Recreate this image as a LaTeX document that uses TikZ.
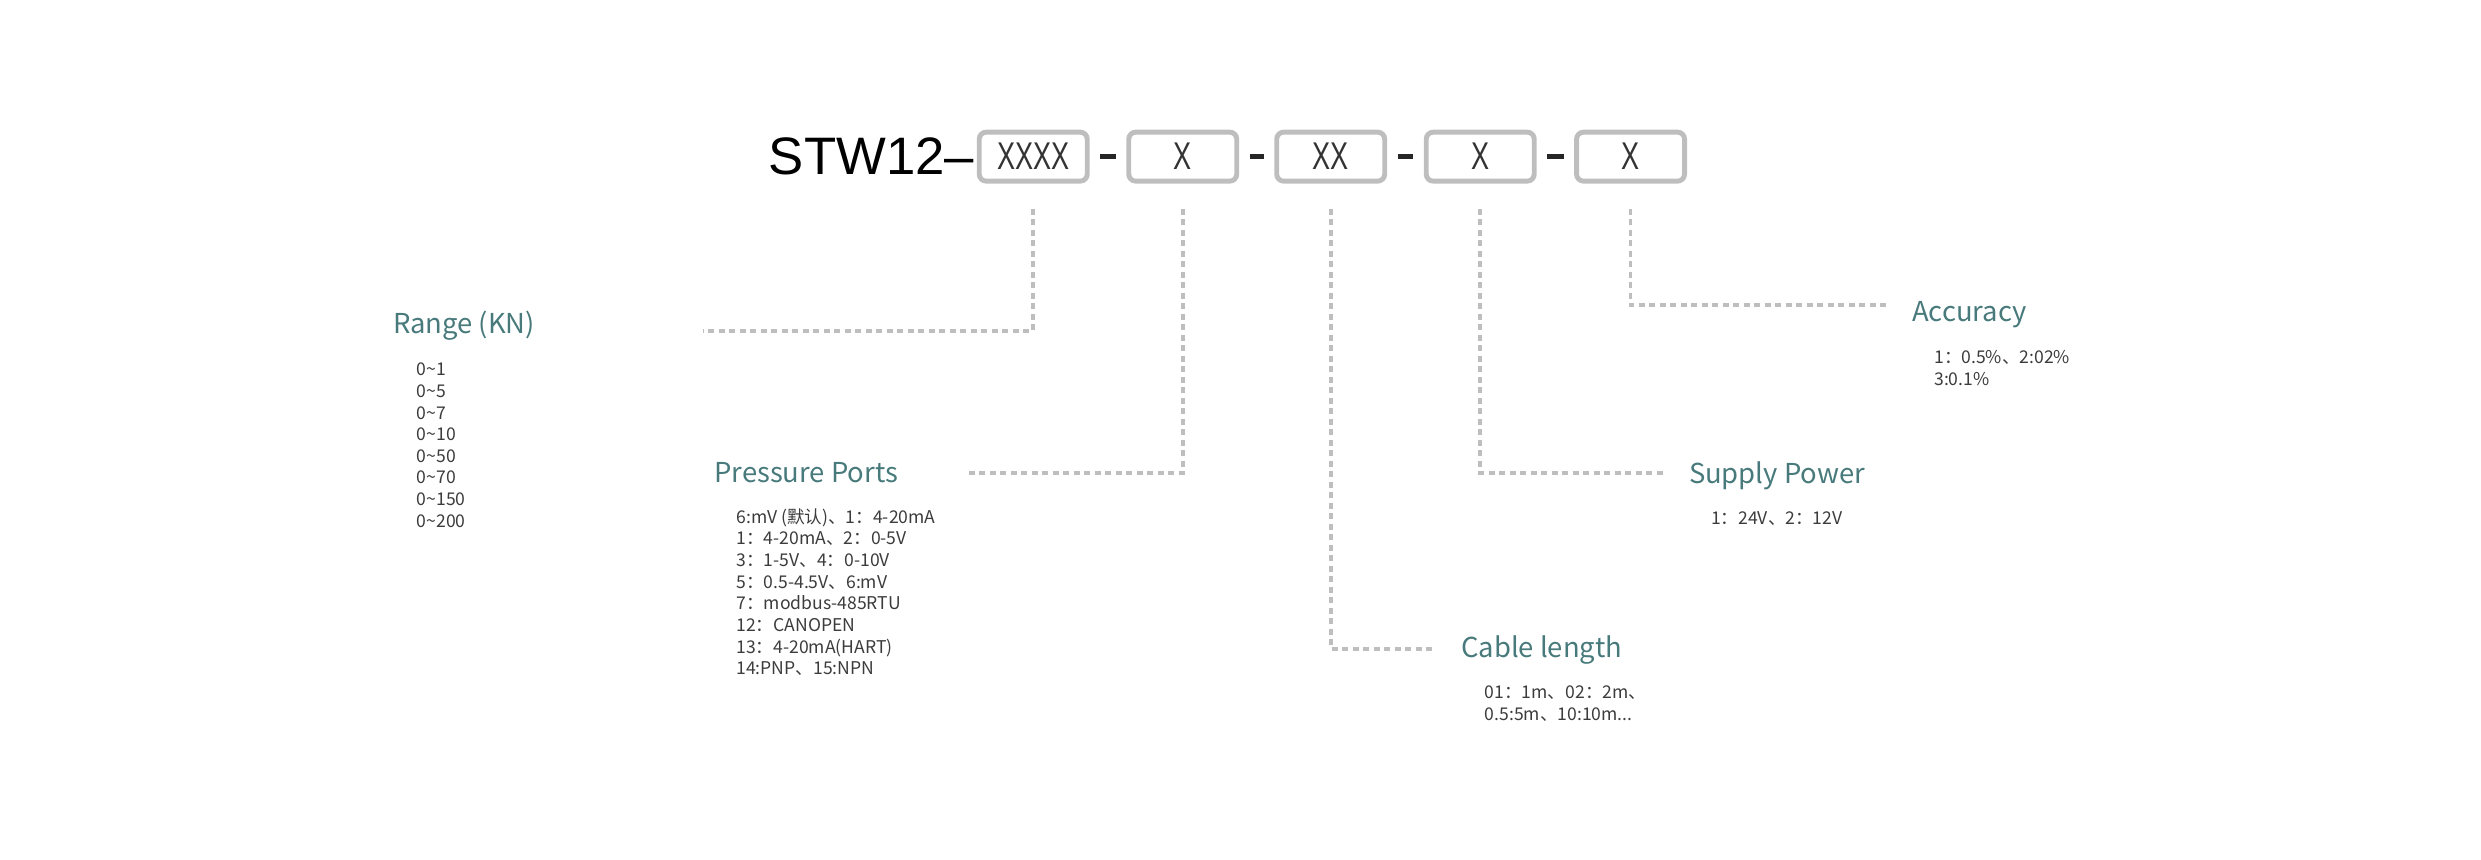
\documentclass[tikz,border=0pt]{standalone}
\usepackage{fontspec}
\setmainfont{Liberation Sans}
\newfontfamily\cjk{Noto Sans CJK SC}
\newfontfamily\narrowsans[FakeStretch=0.7]{Liberation Sans}
\usetikzlibrary{positioning}
\definecolor{teal title}{RGB}{72,122,124}
\definecolor{box gray}{RGB}{190,190,190}
\definecolor{body gray}{RGB}{60,60,60}

\begin{document}
\begin{tikzpicture}[x=0.015823cm,y=-0.015823cm,
    code box/.style={draw=box gray,line width=1.4pt,rounded corners=2pt,
      minimum width=1.08cm,minimum height=0.49cm,inner sep=0pt,
      font=\narrowsans\fontsize{11}{11}\selectfont,text=black!80},
    title/.style={anchor=west,inner sep=0pt,text=teal title,
      font=\cjk\fontsize{7.8}{8}\selectfont},
    body/.style={anchor=north west,inner sep=0pt,align=left,text=body gray,
      font=\cjk\fontsize{5}{6.15}\selectfont},
    lead/.style={draw=box gray,line width=1.1pt,dash pattern=on 0.06cm off 0.045cm},
    joint/.style={draw=black!85,line width=1.6pt}]

  \useasboundingbox (0,0) rectangle (1568,543);

  % code line
  \node[anchor=east,inner sep=0pt,font=\fontsize{15}{15}\selectfont] (model) at (616,99) {STW12--};
  \node[code box] (b1) at (653,99) {XXXX};
  \node[code box] (b2) at (747.5,99) {X};
  \node[code box] (b3) at (841,99) {XX};
  \node[code box] (b4) at (935.5,99) {X};
  \node[code box] (b5) at (1030.5,99) {X};

  \foreach \a/\b in {b1/b2,b2/b3,b3/b4,b4/b5}
    \path[joint] ([xshift=3pt]\a.east) -- ([xshift=-3pt]\b.west);

  % titles
  \node[title] (range) at (248,206) {Range (KN)};
  \node[title] (ports) at (451,299) {Pressure Ports};
  \node[title] (cable) at (923,411) {Cable length};
  \node[title] (power) at (1067,301) {Supply Power};
  \node[title] (acc) at (1208,199) {Accuracy};

  % value lists
  \node[body] (range list) at (263,229) {0\textasciitilde1\\0\textasciitilde5\\0\textasciitilde7\\0\textasciitilde10\\0\textasciitilde50\\0\textasciitilde70\\0\textasciitilde150\\0\textasciitilde200};
  \node[body] (ports list) at (465,321) {6:mV (默认)、1：4-20mA\\1：4-20mA、2：0-5V\\3：1-5V、4：0-10V\\5：0.5-4.5V、6:mV\\7：modbus-485RTU\\12：CANOPEN\\13：4-20mA(HART)\\14:PNP、15:NPN};
  \node[body] (cable list) at (938,433) {01：1m、02：2m、\\0.5:5m、10:10m...};
  \node[body] (power list) at (1081,323) {1：24V、2：12V};
  \node[body] (acc list) at (1222,221) {1：0.5\%、2:02\%\\3:0.1\%};

  % leaders
  \coordinate (r end) at (444,209);
  \coordinate (p end) at (610,299);
  \coordinate (c end) at (906,410);
  \coordinate (s end) at (1052,299);
  \coordinate (a end) at (1192,193);
  \path[lead] ([yshift=-0.25cm]b1.south) |- (r end);
  \path[lead] ([yshift=-0.25cm]b2.south) |- (p end);
  \path[lead] ([yshift=-0.25cm]b3.south) |- (c end);
  \path[lead] ([yshift=-0.25cm]b4.south) |- (s end);
  \path[lead] ([yshift=-0.25cm]b5.south) |- (a end);
\end{tikzpicture}
\end{document}
